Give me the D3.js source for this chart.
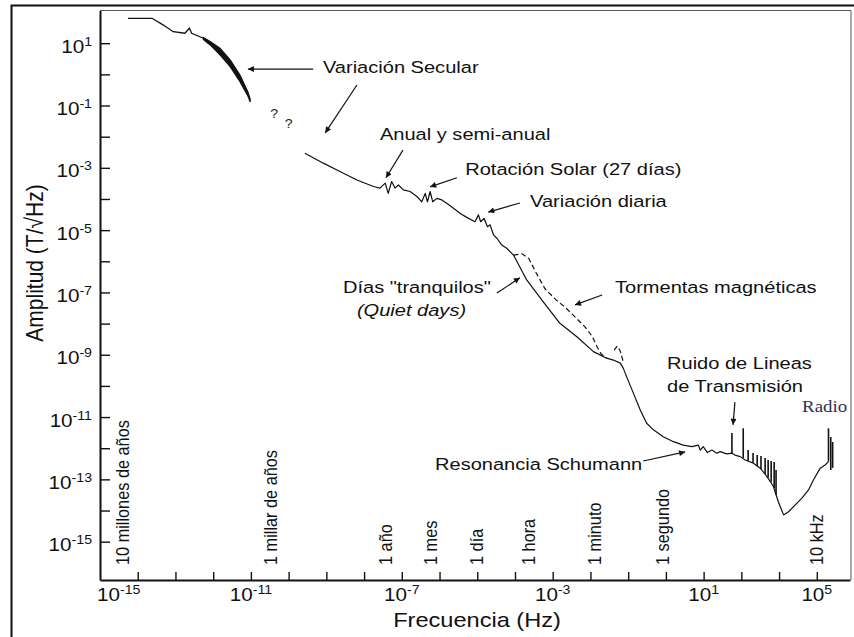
<!DOCTYPE html>
<meta charset="utf-8">
<style>
body { margin: 0; background: #fff; }
svg { display: block; }
text { font-family: "Liberation Sans", Arial, sans-serif; fill: #111; }
.radio { font-family: "Liberation Serif", "Times New Roman", serif; fill: #2e3152; }
.question { font-family: "Liberation Sans", Arial, sans-serif; fill: #222; }
</style>
<svg width="854" height="637"></svg>
<script src="https://d3js.org/d3.v7.min.js"></script>
<script>

// all values are log10 exponents: frequency in Hz, amplitude in T/sqrt(Hz)

// secular variation, thin start of the curve
var secularFreqExp = [-14.26, -13.62, -13.33, -13.06, -12.75, -12.63, -12.57, -12.26];
var secularAmpExp  = [1.80, 1.80, 1.59, 1.37, 1.32, 1.48, 1.32, 1.16];

// secular variation, thick noisy part (low / high edge)
var bandFreqExp = [-12.26, -12.08, -11.82, -11.55, -11.29, -11.08, -11.02];
var bandLowExp  = [1.12, 0.945, 0.624, 0.249, -0.233, -0.692, -0.884];
var bandHighExp = [1.18, 1.051, 0.839, 0.464, -0.018, -0.563, -0.788];

// main spectrum (quiet days)
var freqExp = [-9.57,-9.08,-8.64,-8.19,-7.75,-7.58,-7.44,-7.36,-7.27,-7.18,-7.09,-6.96,-6.78,-6.60,-6.47,-6.38,
  -6.32,-6.25,-6.18,-6.07,-5.94,-5.81,-5.63,-5.46,-5.28,-5.06,-4.97,-4.91,-4.82,-4.73,-4.66,-4.57,-4.48,-4.35,
  -4.22,-4.04,-3.69,-3.25,-2.81,-2.36,-1.92,-1.57,-1.39,-1.21,-1.13,-1.04,-0.86,-0.68,-0.51,-0.33,-0.07,0.20,
  0.46,0.69,0.86,0.91,0.99,1.10,1.22,1.35,1.44,1.61,1.75,1.83,1.97,2.10,2.32,2.50,2.68,2.85,2.98,3.12,3.25,
  3.43,3.60,3.78,3.91,4.09,4.22,4.31];
var ampExp = [-2.53,-2.85,-3.12,-3.39,-3.60,-3.65,-3.49,-3.82,-3.44,-3.65,-3.55,-3.71,-3.76,-3.92,-4.09,-3.82,
  -4.09,-3.76,-4.09,-3.98,-4.03,-4.14,-4.30,-4.46,-4.59,-4.73,-4.51,-4.73,-4.62,-4.89,-4.83,-5.15,-5.26,-5.48,
  -5.58,-5.80,-6.60,-7.30,-7.99,-8.42,-8.90,-9.11,-9.17,-9.27,-9.43,-9.71,-10.24,-10.77,-11.20,-11.41,-11.63,
  -11.79,-11.90,-11.95,-11.90,-12.06,-11.95,-12.14,-12.06,-12.16,-12.11,-12.18,-12.16,-12.22,-12.27,-12.38,
  -12.48,-12.64,-12.91,-13.23,-13.72,-14.14,-14.04,-13.82,-13.61,-13.34,-13.02,-12.64,-12.54,-12.43];

// magnetic storms (dashed)
var stormFreqExp = [-4.04, -3.81, -3.63, -3.44, -3.20, -2.91, -2.65, -2.38, -2.14, -1.96, -1.82, -1.72, -1.57];
var stormAmpExp  = [-5.80, -5.76, -5.92, -6.37, -6.89, -7.24, -7.50, -7.82, -8.11, -8.40, -8.75, -8.97, -9.11];
var hookFreqExp = [-1.37, -1.29, -1.21, -1.13];
var hookAmpExp  = [-8.85, -8.72, -8.88, -9.23];

// power line and radio spikes
var spikeFreqExp = [1.75, 2.05, 2.18, 2.31, 2.42, 2.52, 2.63, 2.71, 2.79, 2.87, 2.92, 4.31, 4.37, 4.42];
var spikeBaseExp = [-12.16, -12.31, -12.41, -12.47, -12.57, -12.67, -12.83, -12.95, -13.08, -13.28, -13.50, -12.43, -12.70, -12.63];
var spikeTopExp  = [-11.51, -11.36, -12.06, -12.15, -12.22, -12.25, -12.31, -12.38, -12.41, -12.44, -12.70, -11.36, -11.64, -11.80];

// axes
var yTickExp = d3.range(-15, 2);
var yLabelExp = [1, -1, -3, -5, -7, -9, -11, -13, -15];
var xTickExp = d3.range(-14, 5);
var xLabelAt = [-15, -11, -7, -3, 1, 4];
var xLabelText = ["-15", "-11", "-7", "-3", "1", "5"];

// periods written along the bottom
var periodNames = ["10 millones de años", "1 millar de años", "1 año", "1 mes", "1 día", "1 hora", "1 minuto", "1 segundo", "10 kHz"];
var periodFreqExp = [-14.42, -10.49, -7.44, -6.25, -5.03, -3.65, -1.90, -0.10, 3.98];

// annotations
var noteText = ["Variación Secular", "Anual y semi-anual", "Rotación Solar (27 días)", "Variación diaria",
  "Días \"tranquilos\"", "(Quiet days)", "Tormentas magnéticas", "Ruido de Lineas", "de Transmisión", "Resonancia Schumann"];
var noteFreqExp = [-9.09, -7.58, -5.32, -3.60, -8.56, -8.19, -1.35, 0.03, 0.03, -6.12];
var noteAmpExp  = [0.05, -2.10, -3.23, -4.26, -7.02, -7.75, -7.02, -9.46, -10.19, -12.70];

var arrowFromF = [-9.35, -8.19, -6.97, -5.54, -3.87, -4.48, -1.69, 1.83, -0.60];
var arrowFromA = [0.17, -0.34, -2.43, -3.32, -4.13, -7.02, -7.08, -10.52, -12.41];
var arrowToF   = [-11.08, -9.03, -7.42, -6.25, -4.71, -3.87, -2.41, 1.78, 0.51];
var arrowToA   = [0.17, -1.88, -3.32, -3.61, -4.42, -6.53, -7.40, -11.25, -12.12];

var questionFreqExp = [-10.49, -10.10];
var questionAmpExp = [-1.40, -1.72];

var svg = d3.select("svg");
var plotLeft = 100, plotRight = 850, plotTop = 10.5, plotBottom = 580;
var stretch = 1.18;  // the lettering of the original is wide

var x = d3.scaleLog().domain([1e-15, Math.pow(10, 4.88)]).range([plotLeft, plotRight]);
var y = d3.scaleLog().domain([Math.pow(10, -16.23), Math.pow(10, 2.05)]).range([plotBottom, plotTop]);

function px(e) { return x(Math.pow(10, e)); }
function py(e) { return y(Math.pow(10, e)); }
function place(tx, ty, rot) {
  return "translate(" + tx + "," + ty + ") scale(" + stretch + ",1)" + (rot ? " rotate(" + rot + ")" : "");
}

// frames
svg.append("rect")
    .attr("x", 11.5).attr("y", 5.5).attr("width", 880).attr("height", 700)
    .attr("fill", "none").attr("stroke", "#111").attr("stroke-width", 2);
svg.append("path")
    .attr("d", "M" + plotLeft + "," + plotTop + "H" + (plotRight + 1) + "V" + plotBottom)
    .attr("fill", "none").attr("stroke", "#555").attr("stroke-width", 1);

// axes, ticks pointing inward
var yAxis = svg.append("g")
    .attr("transform", "translate(" + plotLeft + ",0)")
    .call(d3.axisLeft(y).tickValues(yTickExp.map(function(e) { return Math.pow(10, e); }))
      .tickSize(-10).tickSizeOuter(0).tickFormat(""));
var xAxis = svg.append("g")
    .attr("transform", "translate(0," + plotBottom + ")")
    .call(d3.axisBottom(x).tickValues(xTickExp.map(function(e) { return Math.pow(10, e); }))
      .tickSize(-8).tickSizeOuter(0).tickFormat(""));
svg.selectAll(".domain").attr("stroke", "#111").attr("stroke-width", 2);
svg.selectAll(".tick line").attr("stroke", "#111").attr("stroke-width", 1.4);

svg.append("g").selectAll("text")
  .data(yLabelExp)
  .join("text")
    .attr("transform", function(d) { return place(92, py(d) + 9.5); })
    .attr("text-anchor", "end")
    .style("font-size", "17.5px")
    .each(function(d) {
      var t = d3.select(this);
      t.append("tspan").text("10");
      t.append("tspan").attr("dy", -7).style("font-size", "12px").text(d);
    });

svg.append("g").selectAll("text")
  .data(xLabelAt)
  .join("text")
    .style("font-size", "17.5px")
    .each(function(d, i) {
      var t = d3.select(this);
      t.append("tspan").text("10");
      t.append("tspan").attr("dy", -7).style("font-size", "12px").text(xLabelText[i]);
      var w = this.getComputedTextLength() * stretch;
      var cx = px(d);
      if (cx - w / 2 < plotLeft - 3) {
        t.attr("transform", place(plotLeft - 3, 601)).attr("text-anchor", "start");
      } else {
        t.attr("transform", place(cx, 601)).attr("text-anchor", "middle");
      }
    });

// axis titles
svg.append("text")
    .attr("transform", place(34, 263, -90))
    .attr("text-anchor", "middle")
    .attr("dy", "0.35em")
    .style("font-size", "21px")
    .text("Amplitud (T/\u221AHz)");
svg.append("text")
    .attr("transform", place(477, 627))
    .attr("text-anchor", "middle")
    .style("font-size", "20px")
    .text("Frecuencia (Hz)");

// period labels
svg.append("g").selectAll("text")
  .data(periodNames)
  .join("text")
    .attr("transform", function(d, i) { return place(px(periodFreqExp[i]), 565, -90); })
    .attr("dy", "0.35em")
    .style("font-size", "16.3px")
    .text(function(d) { return d; });

// curves
var line = d3.line()
    .x(function(d) { return px(d[0]); })
    .y(function(d) { return py(d[1]); });

svg.append("path")
    .datum(d3.zip(secularFreqExp, secularAmpExp))
    .attr("d", line)
    .attr("fill", "none").attr("stroke", "#111").attr("stroke-width", 1.3);

svg.append("path")
    .datum(d3.zip(bandFreqExp, bandLowExp, bandHighExp))
    .attr("d", d3.area()
      .x(function(d) { return px(d[0]); })
      .y0(function(d) { return py(d[1]); })
      .y1(function(d) { return py(d[2]); }))
    .attr("fill", "#111").attr("stroke", "#111").attr("stroke-width", 1.2);

svg.append("path")
    .datum(d3.zip(freqExp, ampExp))
    .attr("d", line)
    .attr("fill", "none").attr("stroke", "#111").attr("stroke-width", 1.2)
    .attr("stroke-linejoin", "round");

svg.selectAll(".storm")
  .data([d3.zip(stormFreqExp, stormAmpExp), d3.zip(hookFreqExp, hookAmpExp)])
  .join("path")
    .attr("class", "storm")
    .attr("d", line)
    .attr("fill", "none").attr("stroke", "#111").attr("stroke-width", 1.2)
    .attr("stroke-dasharray", "5,3");

svg.append("g").selectAll("line")
  .data(spikeFreqExp)
  .join("line")
    .attr("x1", function(d) { return px(d); })
    .attr("x2", function(d) { return px(d); })
    .attr("y1", function(d, i) { return py(spikeBaseExp[i]); })
    .attr("y2", function(d, i) { return py(spikeTopExp[i]); })
    .attr("stroke", "#111").attr("stroke-width", 1.6);

// annotations
svg.append("defs").append("marker")
    .attr("id", "head")
    .attr("viewBox", "0 0 10 10")
    .attr("refX", 10).attr("refY", 5)
    .attr("markerWidth", 8).attr("markerHeight", 6)
    .attr("markerUnits", "userSpaceOnUse")
    .attr("orient", "auto")
  .append("path")
    .attr("d", "M0,0L10,5L0,10z")
    .attr("fill", "#111");

svg.append("g").selectAll("line")
  .data(arrowFromF)
  .join("line")
    .attr("x1", function(d) { return px(d); })
    .attr("y1", function(d, i) { return py(arrowFromA[i]); })
    .attr("x2", function(d, i) { return px(arrowToF[i]); })
    .attr("y2", function(d, i) { return py(arrowToA[i]); })
    .attr("stroke", "#111").attr("stroke-width", 1.2)
    .attr("marker-end", "url(#head)");

svg.append("g").selectAll("text")
  .data(noteText)
  .join("text")
    .attr("transform", function(d, i) { return place(px(noteFreqExp[i]), py(noteAmpExp[i])); })
    .style("font-size", "17px")
    .style("font-style", function(d) { return d === "(Quiet days)" ? "italic" : null; })
    .text(function(d) { return d; });

svg.append("text")
    .attr("class", "radio")
    .attr("transform", place(px(3.61), py(-10.84)))
    .style("font-size", "16px")
    .text("Radio");

svg.append("g").selectAll("text")
  .data(questionFreqExp)
  .join("text")
    .attr("class", "question")
    .attr("transform", function(d, i) { return place(px(d), py(questionAmpExp[i])); })
    .style("font-size", "12px")
    .text("?");

</script>
